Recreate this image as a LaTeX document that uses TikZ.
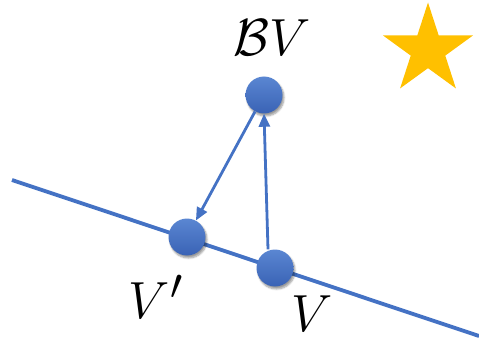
\documentclass[tikz,border=0pt]{standalone}
\usetikzlibrary{arrows.meta,shapes.geometric,shadows.blur}
\definecolor{dotblue}{HTML}{4472C4}
\definecolor{dotlight}{HTML}{5A86D2}
\definecolor{dotdark}{HTML}{3A63B5}
\definecolor{stargold}{HTML}{FFC000}
\tikzset{
  dot/.style={circle, minimum size=37pt, inner sep=0pt, top color=dotlight, bottom color=dotdark,
    blur shadow={shadow xshift=1.5pt, shadow yshift=-2.5pt, shadow blur steps=6, shadow opacity=40}},
  lbl/.style={inner sep=0pt, font=\Huge, scale=2.1, transform shape},
  conn/.style={draw=dotblue, line width=2.8pt, -{Triangle[length=13pt,width=11pt]}},
  baseline/.style={draw=dotblue, line width=3.8pt}
}
\begin{document}
\begin{tikzpicture}[x=1pt,y=-1pt]
\useasboundingbox (0,0) rectangle (479,342);
\coordinate (L1) at (12,180);
\coordinate (L2) at (479,336);
\draw[baseline] (L1) -- (L2);
\node[dot] (bv) at (264,95) {};
\node[dot] (vp) at (187,237) {};
\node[dot] (v) at (275,268) {};
\draw[conn] (bv) -- (vp);
\draw[conn] ([xshift=-7pt]v.north) -- (bv.south);
\node[lbl] (tbv) at (272,38) {$\mathcal{B}V$};
\node[lbl] (tvp) at (156,297) {$V'$};
\node[lbl] (tv) at (312,314) {$V$};
\node[star, star points=5, star point ratio=2.618, minimum size=95pt, inner sep=0pt, fill=stargold] (st) at (428,50) {};
\end{tikzpicture}
\end{document}
